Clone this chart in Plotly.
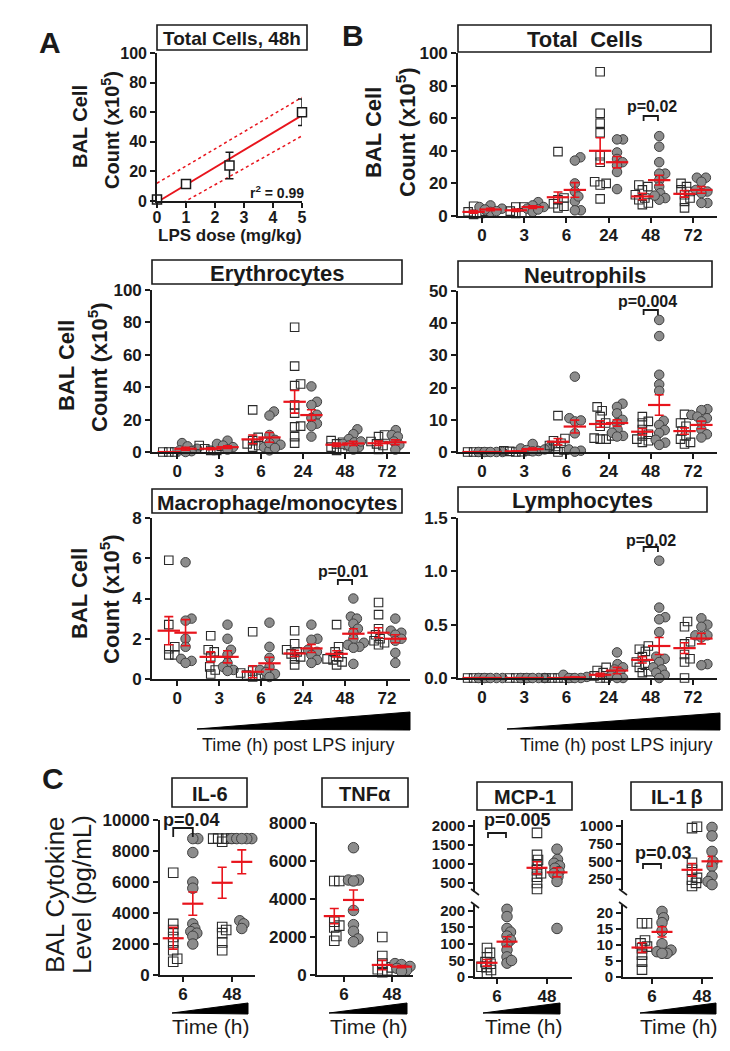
import numpy as np
import plotly.graph_objects as go

# ---------------------------------------------------------------- data
TIMES = ["0", "3", "6", "24", "48", "72"]
CYTO_TIMES = ["6", "48"]

# Panel A: total cells at 48 h vs LPS dose
dose = [0, 1, 2.5, 5]
dose_mean = [1, 11.5, 24, 60]
dose_sem = [0.5, 1.0, 9, 9]
band_x = [0, 1, 2, 3, 4, 5]
band_hi = [12, 23.5, 35, 46.5, 58, 70]
band_lo = [-11, 0, 11, 22, 33, 44]

# Panel B: BAL cells (x10^5); squares = group 1, circles = group 2
total_sq = [[6, 2.5, 1.5, 1, 3], [5.5, 5.5, 2, 3, 1.5], [39.5, 11, 10, 7.5, 5, 6],
            [88.5, 63, 57, 51, 37, 33, 21, 20, 19, 10.5], [19, 18, 16, 13, 11, 8, 7, 10],
            [18, 20, 15, 13, 11, 9, 5, 16]]
total_ci = [[6.5, 4.5, 2.5, 5.5, 3, 4], [8.5, 6.5, 4.5, 2.5, 5.5, 4], [36, 34, 20, 15, 9, 3.5, 3.5, 12],
            [47, 47, 39, 35, 33, 31, 27, 16.5], [49, 42.5, 33, 26, 26, 22, 18, 14, 11, 10, 12.5],
            [23.5, 23.5, 21, 16, 15, 14, 8, 8]]
total_sq_mean = [2.5, 3.5, 11.5, 40, 12, 13.6]
total_sq_sem = [0.8, 0.7, 3.2, 8, 2, 2]
total_ci_mean = [4, 5.5, 16, 33, 22, 16]
total_ci_sem = [0.7, 0.8, 4.5, 3.5, 3, 2]

ery_sq = [[0, 0, 0], [4, 3.5, 2, 1, 1], [26, 9, 6, 4, 3, 5, 7],
          [77, 53, 42, 41, 29, 24, 16, 15.5, 9.5, 5.5], [7, 6, 5, 3, 2, 1, 4],
          [10.5, 9.5, 6.5, 4, 1.5, 5]]
ery_ci = [[5.5, 3.5, 2, 1, 0.5, 0], [7, 5, 4, 3, 1.5], [25, 22.5, 10.5, 7.5, 4.5, 3, 1, 5.5, 2.5],
          [40.5, 31, 29, 23, 21, 17.5, 16, 9.5], [14, 11, 8, 6, 5, 4, 3, 1.5, 6.5],
          [13.5, 10.5, 9.5, 6.5, 4.5, 1.5]]
ery_sq_mean = [0, 2, 7.8, 31, 4.5, 5.4]
ery_sq_sem = [0.1, 0.6, 2.7, 7, 1, 1.3]
ery_ci_mean = [2, 3, 9, 22.8, 5.3, 6]
ery_ci_sem = [0.9, 0.8, 3, 3.3, 1.3, 1.5]

neu_sq = [[0, 0, 0, 0], [0.5, 0.3, 0.2, 0.1, 0, 0.4], [11.3, 4.2, 3.5, 2.7, 1.7, 0.6, 0, 2],
          [14, 12.8, 11, 9, 8, 5, 4.3, 4, 4], [11, 9.5, 9, 7, 5.5, 5, 4, 3.5, 3],
          [11.7, 9, 8, 6.5, 5, 4, 3, 2.5]]
neu_ci = [[0, 0, 0, 0, 0], [2.5, 1.6, 1.1, 0.6, 0.3, 0.2, 0.8], [23.4, 10.5, 9.5, 5.8, 0.8, 0.4, 0.1, 9.8],
          [15, 14, 12, 10, 9, 7, 6, 5, 4.8], [41, 36, 24, 21, 19, 9.7, 8.4, 6.8, 5.9, 3.8, 2.9, 2.2],
          [13.3, 13, 11.5, 11, 10.5, 9.5, 7, 5.5, 4.5]]
neu_sq_mean = [0, 0.2, 3.2, 8.7, 6.3, 6.5]
neu_sq_sem = [0, 0.1, 1, 1, 1, 1]
neu_ci_mean = [0, 0.9, 7.9, 9, 14.6, 8.4]
neu_ci_sem = [0, 0.3, 2, 1, 3.2, 1.2]

mac_sq = [[5.9, 2.7, 1.6, 1.5, 1.2, 1.2], [2.15, 1.45, 1.35, 1.1, 0.6, 0.45, 0.25],
          [2.35, 0.4, 0.3, 0.25, 0.2, 0.15, 0.1], [2.4, 1.75, 1.45, 1.35, 1.25, 1.1, 1.0, 0.7],
          [2.7, 1.6, 1.35, 1.1, 1.0, 0.95, 0.85, 0.7], [3.8, 3.2, 2.5, 2.2, 2.0, 1.9, 1.8, 1.7]]
mac_ci = [[5.8, 3.0, 2.9, 2.0, 1.6, 1.0, 0.9, 0.8], [2.7, 2.0, 1.45, 1.2, 0.8, 0.6, 0.45, 0.4],
          [2.8, 1.6, 1.05, 0.6, 0.45, 0.35, 0.25, 0.1], [2.7, 2.0, 1.95, 1.45, 1.35, 1.2, 0.95, 0.8],
          [4.0, 3.1, 3.0, 2.75, 2.5, 2.3, 2.0, 1.8, 1.7, 1.6, 1.55, 0.75],
          [3.0, 2.4, 2.3, 2.2, 2.0, 1.9, 1.3, 0.8]]
mac_sq_mean = [2.4, 1.1, 0.36, 1.27, 1.25, 2.3]
mac_sq_sem = [0.7, 0.25, 0.3, 0.15, 0.15, 0.25]
mac_ci_mean = [2.3, 1.1, 0.78, 1.52, 2.25, 2.0]
mac_ci_sem = [0.65, 0.3, 0.3, 0.2, 0.25, 0.2]

lym_sq = [[0, 0, 0, 0], [0, 0, 0, 0], [0, 0, 0, 0, 0], [0.1, 0.07, 0.05, 0.02, 0, 0],
          [0.3, 0.27, 0.25, 0.2, 0.15, 0.12, 0.1, 0.06, 0.05],
          [0.53, 0.48, 0.34, 0.32, 0.22, 0.18, 0.15, 0.0]]
lym_ci = [[0, 0, 0, 0, 0], [0, 0, 0, 0, 0], [0.03, 0.01, 0, 0, 0],
          [0.24, 0.13, 0.1, 0.08, 0.05, 0.02, 0, 0],
          [1.1, 0.66, 0.57, 0.55, 0.43, 0.2, 0.18, 0.15, 0.1, 0.08, 0.05, 0.03, 0.0],
          [0.56, 0.5, 0.48, 0.4, 0.4, 0.38, 0.13, 0.12]]
lym_sq_mean = [0, 0, 0, 0.03, 0.17, 0.28]
lym_sq_sem = [0, 0, 0, 0.015, 0.03, 0.05]
lym_ci_mean = [0, 0, 0.005, 0.07, 0.3, 0.37]
lym_ci_sem = [0, 0, 0.005, 0.03, 0.08, 0.05]

# Panel C: BAL cytokines (pg/mL) at 6 h and 48 h
il6_sq = [[6600, 3300, 2900, 2450, 2100, 1600, 1050, 850],
          [8800, 8800, 8800, 8800, 8600, 3100, 2900, 2700, 2100, 1600]]
il6_ci = [[8800, 8800, 7900, 6000, 5600, 3300, 3000, 2800, 2700, 2500, 2000],
          [8800, 8800, 8800, 8800, 8800, 8800, 3500, 3300, 3000]]
il6_sq_mean = [2370, 5950]
il6_sq_sem = [700, 1000]
il6_ci_mean = [4600, 7300]
il6_ci_sem = [750, 770]

tnf_sq = [[4950, 4950, 2800, 2600, 2500, 2050, 1800], [2000, 1000, 600, 300, 150, 400, 250]]
tnf_ci = [[6700, 5000, 5000, 4950, 3400, 2650, 2300, 1900, 1750], [600, 550, 450, 350, 250, 200]]
tnf_sq_mean = [3100, 530]
tnf_sq_sem = [400, 250]
tnf_ci_mean = [3950, 440]
tnf_ci_sem = [520, 60]

mcp_sq = [[88, 73, 60, 45, 40, 31, 21, 11, 30], [1820, 1240, 1105, 975, 840, 755, 665, 500, 340]]
mcp_ci = [[205, 183, 147, 136, 124, 112, 100, 82, 61, 42, 50],
          [1390, 1120, 1020, 950, 890, 800, 750, 670, 540, 230, 147]]
mcp_sq_mean = [43, 900]
mcp_sq_sem = [10, 160]
mcp_ci_mean = [107, 780]
mcp_ci_sem = [15, 120]

il1b_sq = [[16.8, 16.8, 11.4, 9, 7, 4.8, 2.3, 9.5, 10.5], [990, 970, 480, 380, 265, 240, 195, 150]]
il1b_ci = [[25.3, 20.5, 18.5, 17, 14.4, 10.4, 8.4, 7.9, 7.4, 7.4],
           [980, 860, 690, 640, 500, 430, 335, 290, 215, 185, 170]]
il1b_sq_mean = [9.2, 380]
il1b_sq_sem = [1.5, 90]
il1b_ci_mean = [14.1, 500]
il1b_ci_sem = [1.6, 70]

# ---------------------------------------------------------------- style / layout helpers
W, H = 730, 1051
FONT = "Liberation Sans, Arial, Helvetica, sans-serif"
INK = "#1a1a1a"
RED = "#e8141c"
GRAY = "#8c8c8c"
EDGE = "#404040"

fig = go.Figure()
layout = dict(template="none", width=W, height=H,
              margin=dict(l=0, r=0, t=0, b=0, pad=0, autoexpand=False),
              paper_bgcolor="white", plot_bgcolor="white", showlegend=False,
              font=dict(family=FONT, size=14, color=INK))
shapes, annos = [], []


def fx(p):
    return p / W


def fy(p):
    return 1 - p / H


def axis_common(fs):
    return dict(showline=True, linecolor=INK, linewidth=1.6, ticks="outside", ticklen=5,
                tickwidth=1.6, tickcolor=INK, showgrid=False, zeroline=False, fixedrange=True,
                automargin=False, mirror=False,
                tickfont=dict(family=FONT, size=fs, color=INK, weight="bold"))


def set_x(i, xpx, rng, anchor_i, tickvals, ticktext, fs=17, standoff=-2):
    d = axis_common(fs)
    d.update(domain=[fx(xpx[0]), fx(xpx[1])], range=rng,
             anchor="y" if anchor_i == 1 else f"y{anchor_i}",
             tickmode="array", tickvals=tickvals, ticktext=ticktext,
             ticklabelstandoff=standoff)
    layout["xaxis" if i == 1 else f"xaxis{i}"] = d


def set_y(i, ypx, rng, anchor_i, tickvals, ticktext, fs=17):
    d = axis_common(fs)
    d.update(domain=[fy(ypx[1]), fy(ypx[0])], range=rng,
             anchor="x" if anchor_i == 1 else f"x{anchor_i}",
             tickmode="array", tickvals=tickvals, ticktext=ticktext)
    layout["yaxis" if i == 1 else f"yaxis{i}"] = d


def add_text(xp, yp, text, fs, bold=True, angle=0, xanchor="center"):
    annos.append(dict(xref="paper", yref="paper", x=fx(xp), y=fy(yp),
                      text=f"<b>{text}</b>" if bold else text, showarrow=False,
                      textangle=angle, xanchor=xanchor, yanchor="middle",
                      font=dict(family=FONT, size=fs, color=INK)))


def add_box(x0, x1, y0, y1, text, fs=22):
    shapes.append(dict(type="rect", xref="paper", yref="paper", x0=fx(x0), x1=fx(x1),
                       y0=fy(y1), y1=fy(y0), line=dict(color=INK, width=1.6)))
    add_text((x0 + x1) / 2, (y0 + y1) / 2 + 1, text, fs)


def add_wedge(xl, xr, ybot, ytop):
    path = (f"M {fx(xl)} {fy(ybot)} L {fx(xr)} {fy(ytop)} L {fx(xr)} {fy(ybot + 1)} Z")
    shapes.append(dict(type="path", xref="paper", yref="paper", path=path,
                       fillcolor="black", line=dict(color="black", width=1)))


def add_bracket(xi, cat, ytop, ybot, half=0.17):
    xr = "x" if xi == 1 else f"x{xi}"
    path = (f"M {cat - half} {fy(ybot)} L {cat - half} {fy(ytop)} "
            f"L {cat + half} {fy(ytop)} L {cat + half} {fy(ybot)}")
    shapes.append(dict(type="path", xref=xr, yref="paper", path=path,
                       line=dict(color=INK, width=1.8)))


def seg_for(segs, v):
    for s in segs:
        if v <= s["lim"]:
            return s
    return segs[-1]


def ypix(s, v):
    return s["bot"] - (v - s["r0"]) * (s["bot"] - s["top"]) / (s["r1"] - s["r0"])


def swarm(ys, diam):
    order = np.argsort(ys)[::-1]
    cands = sorted(np.arange(-30, 30.01, 0.5), key=lambda c: (abs(c), -c))
    placed, offs = [], [0.0] * len(ys)
    for i in order:
        chosen = 0.0
        for c in cands:
            if all((c - px) ** 2 + (ys[i] - py) ** 2 >= diam ** 2 for px, py in placed):
                chosen = c
                break
        offs[i] = chosen
        placed.append((chosen, ys[i]))
    return offs


def draw_groups(xi, segs, cat_px, sq_lists, ci_lists, msq, ssq, mci, sci,
                sq_size=8.5, ci_size=9.5, diam=6.0, gofs=0.2, mean_size=16, cap=4.5):
    xname = "x" if xi == 1 else f"x{xi}"
    for k in range(len(sq_lists)):
        for vals, off, kind in ((sq_lists[k], -gofs, "sq"), (ci_lists[k], gofs, "ci")):
            ys = [ypix(seg_for(segs, v), v) for v in vals]
            offs = swarm(ys, diam)
            by_seg = {}
            for v, o in zip(vals, offs):
                s = seg_for(segs, v)
                by_seg.setdefault(s["yi"], ([], []))
                by_seg[s["yi"]][0].append(k + off + o / cat_px)
                by_seg[s["yi"]][1].append(v)
            for yi, (xs, vs) in by_seg.items():
                if kind == "sq":
                    mk = dict(symbol="square-open", size=sq_size, color="#2a2a2a",
                              line=dict(width=1.1))
                else:
                    mk = dict(symbol="circle", size=ci_size, color=GRAY,
                              line=dict(color=EDGE, width=1))
                fig.add_trace(go.Scatter(x=xs, y=vs, mode="markers", marker=mk,
                                         xaxis=xname, yaxis="y" if yi == 1 else f"y{yi}",
                                         cliponaxis=False, hoverinfo="skip"))
    for k in range(len(sq_lists)):
        for m, se, off in ((msq[k], ssq[k], -gofs), (mci[k], sci[k], gofs)):
            s = seg_for(segs, m)
            fig.add_trace(go.Scatter(
                x=[k + off], y=[m], mode="markers",
                marker=dict(symbol="line-ew", size=mean_size, color=RED,
                            line=dict(color=RED, width=2.2)),
                error_y=dict(type="data", array=[se], color=RED, thickness=1.6, width=cap),
                xaxis=xname, yaxis="y" if s["yi"] == 1 else f"y{s['yi']}",
                cliponaxis=False, hoverinfo="skip"))


# ---------------------------------------------------------------- Panel A
set_x(1, (157, 302), [0, 5], 1, [0, 1, 2, 3, 4, 5], ["0", "1", "2", "3", "4", "5"], fs=16, standoff=-4)
set_y(1, (53, 201), [0, 100], 1, [0, 20, 40, 60, 80, 100], ["0", "20", "40", "60", "80", "100"], fs=16)
coef = np.polyfit(dose, dose_mean, 1)
fit_x = [min(dose), max(dose)]
fig.add_trace(go.Scatter(x=band_x, y=band_hi, mode="lines", line=dict(color=RED, width=1.5, dash="dot"),
                         xaxis="x", yaxis="y", hoverinfo="skip"))
fig.add_trace(go.Scatter(x=band_x, y=band_lo, mode="lines", line=dict(color=RED, width=1.5, dash="dot"),
                         xaxis="x", yaxis="y", hoverinfo="skip"))
fig.add_trace(go.Scatter(x=fit_x, y=list(np.polyval(coef, fit_x)), mode="lines",
                         line=dict(color=RED, width=1.8), xaxis="x", yaxis="y", hoverinfo="skip"))
fig.add_trace(go.Scatter(x=dose, y=dose_mean, mode="markers",
                         marker=dict(symbol="square", size=9, color="white", line=dict(color=INK, width=1.5)),
                         error_y=dict(type="data", array=dose_sem, color=INK, thickness=1.5, width=4),
                         xaxis="x", yaxis="y", cliponaxis=False, hoverinfo="skip"))
add_box(157, 307, 25, 50, "Total Cells, 48h", 19)
add_text(277, 192, "r<sup>2</sup> = 0.99", 14)
add_text(230, 236, "LPS dose (mg/kg)", 17)
add_text(80, 127, "BAL Cell", 20, angle=-90)
add_text(110, 130, "Count (x10<sup>5</sup>)", 20, angle=-90)
add_text(50, 42, "A", 30)

# ---------------------------------------------------------------- Panel B
LEFT_X, LEFT_R = (152, 410), [-0.6, 5.55]
RIGHT_X, RIGHT_R = (458, 717), [-0.57, 5.57]
cats = list(range(6))


def b_panel(i, xpx, xr, ypx, yr, ytv, ytt, sq, ci, msq, ssq, mci, sci):
    set_x(i, xpx, xr, i, cats, TIMES)
    set_y(i, ypx, yr, i, ytv, ytt)
    segs = [dict(yi=i, r0=yr[0], r1=yr[1], top=ypx[0], bot=ypx[1], lim=np.inf)]
    cat_px = (xpx[1] - xpx[0]) / (xr[1] - xr[0])
    draw_groups(i, segs, cat_px, sq, ci, msq, ssq, mci, sci)


b_panel(2, RIGHT_X, RIGHT_R, (53, 216), [0, 100], [0, 20, 40, 60, 80, 100],
        ["0", "20", "40", "60", "80", "100"],
        total_sq, total_ci, total_sq_mean, total_sq_sem, total_ci_mean, total_ci_sem)
b_panel(3, LEFT_X, LEFT_R, (290, 452), [0, 100], [0, 20, 40, 60, 80, 100],
        ["0", "20", "40", "60", "80", "100"],
        ery_sq, ery_ci, ery_sq_mean, ery_sq_sem, ery_ci_mean, ery_ci_sem)
b_panel(4, RIGHT_X, RIGHT_R, (291, 452), [0, 50], [0, 10, 20, 30, 40, 50],
        ["0", "10", "20", "30", "40", "50"],
        neu_sq, neu_ci, neu_sq_mean, neu_sq_sem, neu_ci_mean, neu_ci_sem)
b_panel(5, LEFT_X, LEFT_R, (518, 679), [0, 8], [0, 2, 4, 6, 8], ["0", "2", "4", "6", "8"],
        mac_sq, mac_ci, mac_sq_mean, mac_sq_sem, mac_ci_mean, mac_ci_sem)
b_panel(6, RIGHT_X, RIGHT_R, (518, 678), [0, 1.5], [0, 0.5, 1.0, 1.5], ["0.0", "0.5", "1.0", "1.5"],
        lym_sq, lym_ci, lym_sq_mean, lym_sq_sem, lym_ci_mean, lym_ci_sem)

add_box(458, 711, 25, 52, "Total\u00a0 Cells", 22)
add_box(152, 402, 260, 284, "Erythrocytes", 22)
add_box(458, 712, 261, 287, "Neutrophils", 22)
add_box(152, 402, 489, 513, "Macrophage/monocytes", 21)
add_box(458, 707, 487, 512, "Lymphocytes", 22)

add_text(373, 132, "BAL Cell", 22, angle=-90)
add_text(406, 132, "Count (x10<sup>5</sup>)", 22, angle=-90)
add_text(66, 366, "BAL Cell", 22, angle=-90)
add_text(98, 367, "Count (x10<sup>5</sup>)", 22, angle=-90)
add_text(79, 594, "BAL Cell", 22, angle=-90)
add_text(110, 599, "Count (x10<sup>5</sup>)", 22, angle=-90)
add_text(353, 35, "B", 30)

add_bracket(2, 4, 116, 121)
add_text(652, 106, "p=0.02", 16)
add_bracket(4, 4, 310, 315)
add_text(647, 302, "p=0.004", 16)
add_bracket(5, 4, 580, 585)
add_text(343, 571, "p=0.01", 16)
add_bracket(6, 4, 547, 552)
add_text(651, 540, "p=0.02", 16)

add_wedge(197, 410, 729, 712)
add_wedge(507, 720, 729, 713)
add_text(298, 745, "Time (h) post LPS injury", 18, bold=False)
add_text(616, 745, "Time (h) post LPS injury", 18, bold=False)

# ---------------------------------------------------------------- Panel C
cc = [0, 1]
CF = 17
BF = 15   # broken-axis tick labels (tightly spaced)
# IL-6
set_x(7, (160, 255), [-0.47, 1.47], 7, cc, CYTO_TIMES, fs=CF)
set_y(7, (820, 975), [0, 10000], 7, [0, 2000, 4000, 6000, 8000, 10000],
      ["0", "2000", "4000", "6000", "8000", "10000"], fs=CF)
draw_groups(7, [dict(yi=7, r0=0, r1=10000, top=820, bot=975, lim=np.inf)], 95 / 1.94,
            il6_sq, il6_ci, il6_sq_mean, il6_sq_sem, il6_ci_mean, il6_ci_sem,
            sq_size=9.5, ci_size=10.5, diam=5.0, mean_size=15)
# TNFa
set_x(8, (317, 413), [-0.56, 1.44], 8, cc, CYTO_TIMES, fs=CF)
set_y(8, (823, 975), [0, 8000], 8, [0, 2000, 4000, 6000, 8000],
      ["0", "2000", "4000", "6000", "8000"], fs=CF)
draw_groups(8, [dict(yi=8, r0=0, r1=8000, top=823, bot=975, lim=np.inf)], 96 / 2.0,
            tnf_sq, tnf_ci, tnf_sq_mean, tnf_sq_sem, tnf_ci_mean, tnf_ci_sem,
            sq_size=9.5, ci_size=10.5, diam=5.0, mean_size=15)
# MCP-1 (broken axis)
set_x(9, (475, 572), [-0.44, 1.5], 9, cc, CYTO_TIMES, fs=CF)
set_y(9, (905, 977), [0, 218], 9, [0, 50, 100, 150, 200], ["0", "50", "100", "150", "200"], fs=BF)
set_y(10, (820, 892), [263, 2158], 9, [500, 1000, 1500, 2000], ["500", "1000", "1500", "2000"], fs=BF)
draw_groups(9, [dict(yi=9, r0=0, r1=218, top=905, bot=977, lim=220),
                dict(yi=10, r0=263, r1=2158, top=820, bot=892, lim=np.inf)], 97 / 1.94,
            mcp_sq, mcp_ci, mcp_sq_mean, mcp_sq_sem, mcp_ci_mean, mcp_ci_sem,
            sq_size=9.5, ci_size=10.5, diam=5.0, mean_size=15)
# IL-1b (broken axis)
set_x(11, (623, 713), [-0.58, 1.22], 11, cc, CYTO_TIMES, fs=CF)
set_y(11, (905, 977), [0, 22.5], 11, [0, 5, 10, 15, 20], ["0", "5", "10", "15", "20"], fs=BF)
set_y(12, (820, 890), [94, 1085], 11, [250, 500, 750, 1000], ["250", "500", "750", "1000"], fs=BF)
draw_groups(11, [dict(yi=11, r0=0, r1=22.5, top=905, bot=977, lim=30),
                 dict(yi=12, r0=94, r1=1085, top=820, bot=890, lim=np.inf)], 90 / 1.8,
            il1b_sq, il1b_ci, il1b_sq_mean, il1b_sq_sem, il1b_ci_mean, il1b_ci_sem,
            sq_size=9.5, ci_size=10.5, diam=5.0, mean_size=15)

# axis break marks
for xa in (475, 623):
    for yb in (892, 905):
        shapes.append(dict(type="line", xref="paper", yref="paper", x0=fx(xa - 4), x1=fx(xa + 4),
                           y0=fy(yb - 3), y1=fy(yb + 3), line=dict(color=INK, width=1.6)))

add_box(172, 247, 778, 807, "IL-6", 20)
add_box(322, 408, 778, 807, "TNFα", 20)
add_box(477, 572, 782, 810, "MCP-1", 20)
add_box(631, 722, 782, 810, "IL-1\u2009β", 20)

add_bracket(7, 0, 828, 837, half=0.2)
add_text(192, 820, "p=0.04", 18)
add_bracket(9, 0, 833, 838, half=0.18)
add_text(517, 820, "p=0.005", 18)
add_bracket(11, 0, 864, 869, half=0.18)
add_text(663, 853, "p=0.03", 18)

for xl, xr in ((172, 248), (329, 407), (483, 560), (640, 716)):
    add_wedge(xl, xr, 1013, 1003)
for xc in (211, 368, 523, 678):
    add_text(xc, 1026, "Time (h)", 21, bold=False)

add_text(55, 895, "BAL Cytokine", 26, bold=False, angle=-90)
add_text(82, 895, "Level (pg/mL)", 26, bold=False, angle=-90)
add_text(53, 778, "C", 30)

layout["shapes"] = shapes
layout["annotations"] = annos
fig.update_layout(**layout)
fig.write_html("out.html", config={"displayModeBar": False},
               post_script="document.body.style.margin='0px';")
